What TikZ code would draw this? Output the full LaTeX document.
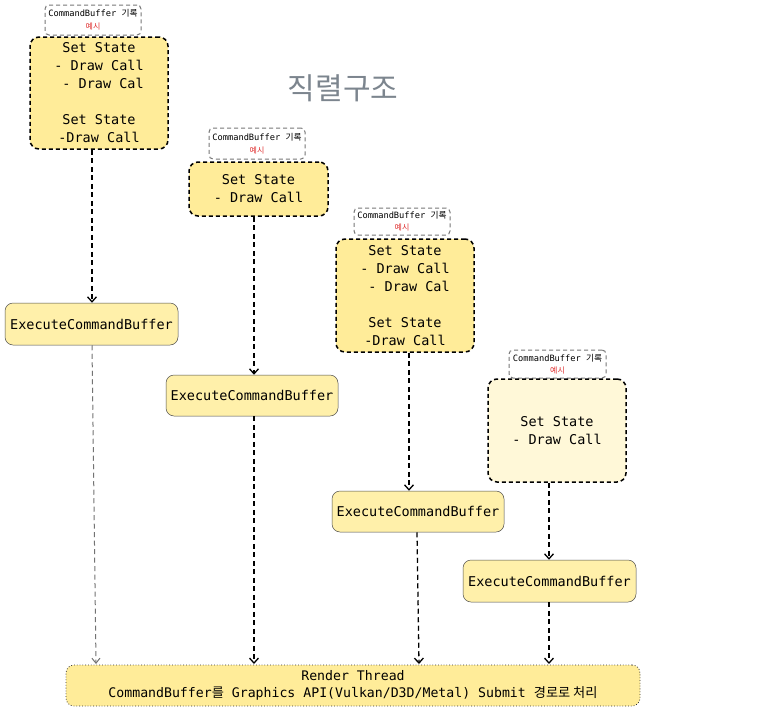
\documentclass[tikz,border=0pt]{standalone}
\usepackage{fontspec}
\setmonofont{DejaVu Sans Mono}
\newfontfamily\kr{Noto Sans CJK KR}
\usetikzlibrary{arrows.meta,calc}
\definecolor{yel}{HTML}{FFEC99}
\definecolor{yelexec}{HTML}{FFF0AA}
\definecolor{yelpale}{HTML}{FFF8D8}
\definecolor{titlegray}{HTML}{7C858E}
\definecolor{lblgray}{HTML}{777777}
\definecolor{lblred}{HTML}{E03131}
\tikzset{
  cmdbox/.style={draw=black, line width=1.5pt, dash pattern=on 4pt off 3pt, rounded corners=9pt, fill=yel, inner sep=0pt, align=center, font=\ttfamily\fontsize{13.5}{18}\selectfont},
  lblbox/.style={draw=lblgray, line width=1pt, dash pattern=on 4pt off 3pt, rounded corners=4pt, fill=white, inner sep=0pt, align=center, font=\ttfamily\fontsize{8.7}{12}\selectfont},
  execbox/.style={draw=black!70, line width=0.5pt, rounded corners=8pt, fill=yelexec, inner sep=0pt, font=\ttfamily\fontsize{13.5}{18}\selectfont},
  renderbox/.style={draw=black!80, line width=0.8pt, dotted, rounded corners=8pt, fill=yel, inner sep=0pt, align=center, font=\ttfamily\fontsize{13.2}{17}\selectfont},
  arr/.style={line width=1.3pt, dash pattern=on 5pt off 3.5pt, -{Straight Barb[length=5pt,width=9pt,line width=1.3pt]}},
  grayarr/.style={line width=1pt, draw=black!55, dash pattern=on 5pt off 3.5pt, -{Straight Barb[length=5pt,width=8pt,line width=1pt]}},
}
\newcommand{\redex}{{\kr\color{lblred}\fontsize{8}{9}\selectfont 예시}}
\begin{document}
\begin{tikzpicture}[x=1pt,y=-1pt]
\useasboundingbox[fill=white] (0,0) rectangle (757,712);

\node[font=\kr\fontsize{30}{32}\selectfont, text=titlegray] (title) at (343,88) {직렬구조};

% label boxes
\node[lblbox, minimum width=96pt, minimum height=30pt] (lbl1) at (93,20) {CommandBuffer {\kr 기록}\\[1pt]\redex};
\node[lblbox, minimum width=96pt, minimum height=31pt] (lbl2) at (257,143.5) {CommandBuffer {\kr 기록}\\[1pt]\redex};
\node[lblbox, minimum width=96pt, minimum height=27pt] (lbl3) at (402,221.5) {CommandBuffer {\kr 기록}\\[0pt]\redex};
\node[lblbox, minimum width=97pt, minimum height=28pt] (lbl4) at (557.5,364) {CommandBuffer {\kr 기록}\\[0pt]\redex};

% command boxes
\node[cmdbox, minimum width=138pt, minimum height=112pt] (box1) at (99,93) {Set State\\- Draw Call\\~- Draw Cal\\[18pt]Set State\\-Draw Call};
\node[cmdbox, minimum width=139pt, minimum height=54pt] (box2) at (258.5,189) {Set State\\- Draw Call};
\node[cmdbox, minimum width=138pt, minimum height=113pt] (box3) at (405,295.5) {Set State\\- Draw Call\\~- Draw Cal\\[18pt]Set State\\-Draw Call};
\node[cmdbox, fill=yelpale, minimum width=138pt, minimum height=103pt] (box4) at (557,430.5) {Set State\\- Draw Call};

% execute boxes
\node[execbox, minimum width=173pt, minimum height=42pt] (exec1) at (91.5,324) {ExecuteCommandBuffer};
\node[execbox, minimum width=172pt, minimum height=41pt] (exec2) at (252,395.5) {ExecuteCommandBuffer};
\node[execbox, minimum width=172pt, minimum height=41pt] (exec3) at (418,511.5) {ExecuteCommandBuffer};
\node[execbox, minimum width=173pt, minimum height=42pt] (exec4) at (549.5,581) {ExecuteCommandBuffer};

% render thread
\node[renderbox, minimum width=574pt, minimum height=41pt] (render) at (353,685.5) {Render Thread\\CommandBuffer{\kr 를} Graphics API(Vulkan/D3D/Metal) Submit {\kr 경로로 처리}};

% arrows box -> exec
\draw[arr] ([xshift=-7pt]box1.south) -- ([xshift=0.5pt]exec1.north);
\draw[arr] ([xshift=-4.5pt]box2.south) -- ([xshift=2pt]exec2.north);
\draw[arr] ([xshift=4pt]box3.south) -- ([xshift=-9pt]exec3.north);
\draw[arr] ([xshift=-8pt]box4.south) -- ([xshift=-0.5pt]exec4.north);

% arrows exec -> render
\draw[grayarr] ([xshift=0.5pt]exec1.south) -- (96,664);
\draw[arr] ([xshift=2pt]exec2.south) -- (254,664);
\draw[arr] ([xshift=-1pt]exec3.south) -- (419,664);
\draw[arr] ([xshift=-0.5pt]exec4.south) -- (549,664);
\end{tikzpicture}
\end{document}
